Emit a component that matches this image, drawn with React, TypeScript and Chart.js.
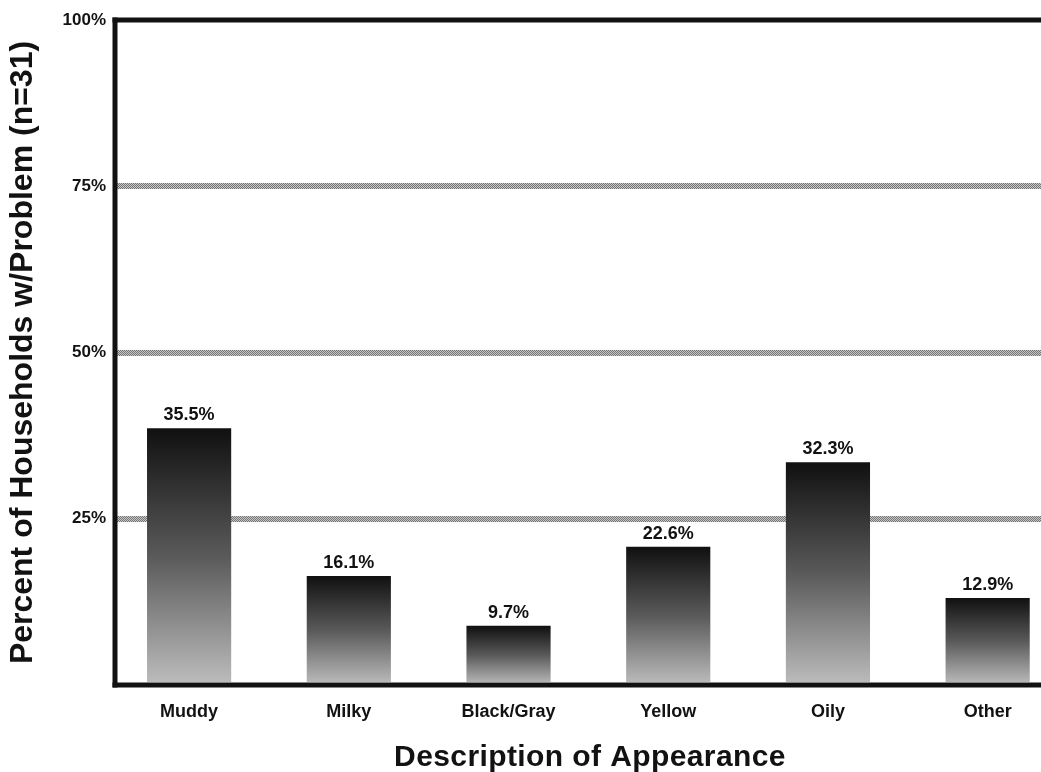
import React, { useEffect, useRef } from 'react';
import { Chart, registerables } from 'chart.js';

Chart.register(...registerables);

const categories = ['Muddy', 'Milky', 'Black/Gray', 'Yellow', 'Oily', 'Other'];
// bar heights as drawn in the picture (percent)
const barValues = [38.6, 16.4, 8.9, 20.8, 33.5, 13.1];
// value labels printed above the bars
const valueLabels = ['35.5%', '16.1%', '9.7%', '22.6%', '32.3%', '12.9%'];
const yTickValues = [0, 25, 50, 75, 100];
const yTickLabels = ['', '25%', '50%', '75%', '100%'];
const xTitle = 'Description of Appearance';
const yTitle = 'Percent of Households w/Problem (n=31)';

const FONT = '"Liberation Sans", Arial, Helvetica, sans-serif';
const INK = '#121212';

function makeDither(ctx: CanvasRenderingContext2D, c1: string, c2: string) {
  const cv = document.createElement('canvas');
  cv.width = 2;
  cv.height = 2;
  const c = cv.getContext('2d')!;
  c.fillStyle = c2;
  c.fillRect(0, 0, 2, 2);
  c.fillStyle = c1;
  c.fillRect(0, 0, 1, 1);
  c.fillRect(1, 1, 1, 1);
  return ctx.createPattern(cv, 'repeat');
}

const framePlugin = {
  id: 'frame',
  afterDatasetsDraw(chart: any) {
    const { ctx, chartArea } = chart;
    const { left, top, right, bottom } = chartArea;
    const w = 5;
    ctx.save();
    ctx.fillStyle = INK;
    ctx.fillRect(left - w / 2, top - w / 2, right - left + w, w);
    ctx.fillRect(left - w / 2, top - w / 2, w, bottom - top + w);
    ctx.fillRect(left - w / 2, bottom - w / 2, right - left + w, w);
    ctx.restore();
  },
};

const valueLabelPlugin = {
  id: 'valueLabels',
  afterDatasetsDraw(chart: any) {
    const meta = chart.getDatasetMeta(0);
    const ctx = chart.ctx;
    ctx.save();
    ctx.font = `bold 18px ${FONT}`;
    ctx.fillStyle = INK;
    ctx.textAlign = 'center';
    ctx.textBaseline = 'alphabetic';
    meta.data.forEach((el: any, i: number) => {
      ctx.fillText(valueLabels[i], el.x, el.y - 8);
    });
    ctx.restore();
  },
};

// x-axis title, drawn as canvas text slightly right of the plot centre like the original
const xTitlePlugin = {
  id: 'xTitle',
  afterDraw(chart: any) {
    const ctx = chart.ctx;
    const { left, right } = chart.chartArea;
    ctx.save();
    ctx.font = `bold 30px ${FONT}`;
    try {
      (ctx as any).letterSpacing = '0.4px';
    } catch (e) {}
    ctx.fillStyle = INK;
    ctx.textAlign = 'center';
    ctx.textBaseline = 'alphabetic';
    ctx.fillText(xTitle, (left + right) / 2 + 12, chart.height - 6);
    ctx.restore();
  },
};

export default function App() {
  const ref = useRef<HTMLCanvasElement>(null);

  useEffect(() => {
    const canvas = ref.current!;
    const c2d = canvas.getContext('2d')!;
    const gridPattern = makeDither(c2d, '#737373', '#c9c9c9');

    const chart = new Chart(canvas, {
      type: 'bar',
      data: {
        datasets: [
          {
            data: barValues.map((v, i) => ({ x: i, y: v })),
            categoryPercentage: 1,
            barPercentage: 0.527,
            borderWidth: 0,
            backgroundColor: (ctx: any) => {
              const chart = ctx.chart;
              const { chartArea, scales } = chart;
              if (!chartArea || ctx.type !== 'data' || !ctx.raw) return '#555';
              const top = scales.y.getPixelForValue(ctx.raw.y);
              const bottom = scales.y.getPixelForValue(0);
              const g = chart.ctx.createLinearGradient(0, top, 0, bottom);
              g.addColorStop(0, '#101010');
              g.addColorStop(0.5, '#5a5a5a');
              g.addColorStop(1, '#bdbdbd');
              return g;
            },
          } as any,
        ],
      },
      options: {
        animation: false,
        responsive: true,
        maintainAspectRatio: false,
        layout: { padding: { top: 20, right: 0, left: 0, bottom: 0 } },
        plugins: {
          legend: { display: false },
          tooltip: { enabled: false },
        },
        scales: {
          x: {
            type: 'linear',
            min: -0.464,
            max: 5.334,
            bounds: 'data',
            offset: false,
            grid: { display: false },
            border: { display: false },
            afterBuildTicks: (scale: any) => {
              scale.ticks = categories.map((_, i) => ({ value: i }));
            },
            afterFit: (scale: any) => {
              scale.height = 87;
            },
            ticks: {
              autoSkip: false,
              maxRotation: 0,
              padding: 8,
              color: INK,
              font: { family: FONT, size: 18, weight: 'bold' },
              callback: (v: any) => {
                const i = Math.round(Number(v));
                return Math.abs(Number(v) - i) < 1e-6 && categories[i] ? categories[i] : '';
              },
            },
            title: { display: false },
          },
          y: {
            min: 0,
            max: 100,
            border: { display: false },
            afterFit: (scale: any) => {
              scale.width = 115;
            },
            grid: {
              drawTicks: false,
              lineWidth: 6,
              color: (ctx: any) =>
                ctx.tick && (ctx.tick.value === 0 || ctx.tick.value === 100)
                  ? 'rgba(0,0,0,0)'
                  : (gridPattern as any),
            },
            ticks: {
              stepSize: 25,
              padding: 9,
              color: INK,
              font: { family: FONT, size: 17, weight: 'bold' },
              callback: (v: any) => {
                const i = yTickValues.indexOf(Number(v));
                return i >= 0 ? yTickLabels[i] : '';
              },
            },
            title: {
              display: true,
              text: yTitle,
              color: INK,
              font: { family: FONT, size: 32, weight: 'bold', lineHeight: 1.2 },
              padding: { top: 4, bottom: 0 },
            },
          },
        },
      } as any,
      plugins: [framePlugin, valueLabelPlugin, xTitlePlugin],
    });

    return () => chart.destroy();
  }, []);

  return (
    <div style={{ position: 'absolute', left: 0, top: 0, width: 1041, height: 772, background: '#fff' }}>
      <canvas ref={ref} />
    </div>
  );
}
